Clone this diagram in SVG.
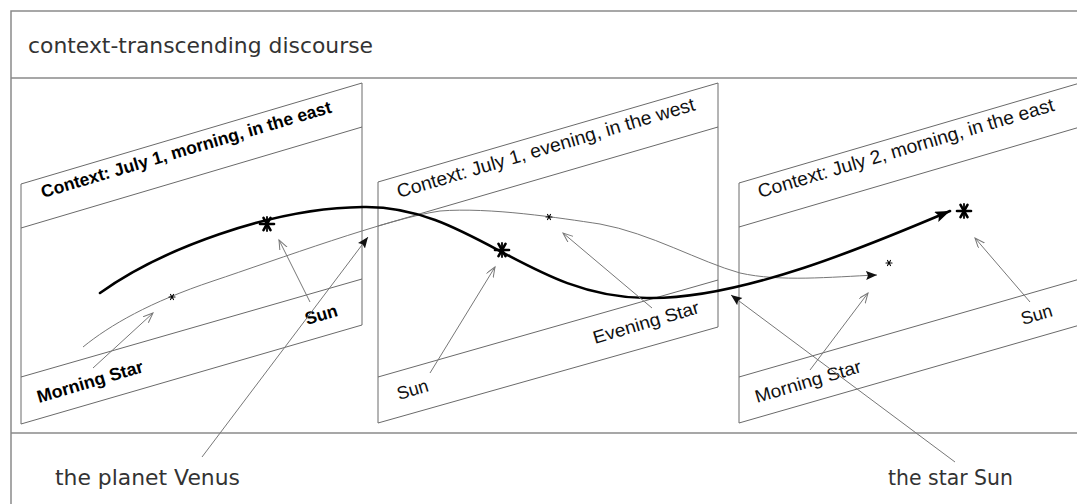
<svg xmlns="http://www.w3.org/2000/svg" width="1077" height="504" viewBox="0 0 1077 504">
<style>
.frame{fill:none;stroke:#8a8a8a;stroke-width:1.5}
.panel{fill:#fff;stroke:#6a6a6a;stroke-width:1}
.pline{fill:none;stroke:#6a6a6a;stroke-width:1}
.big{font-family:"DejaVu Sans","Liberation Sans",sans-serif;fill:#333}
.ctxb{font-family:"Liberation Sans",Arial,sans-serif;font-weight:bold;font-size:17.5px;fill:#000}
.ctx{font-family:"Liberation Sans",Arial,sans-serif;font-size:19px;fill:#111}
.lblb{font-family:"Liberation Sans",Arial,sans-serif;font-weight:bold;font-size:17.5px;fill:#000}
.lbl{font-family:"Liberation Sans",Arial,sans-serif;font-size:18px;fill:#111}
.thick{fill:none;stroke:#000;stroke-width:2.6;stroke-linecap:round}
.thin{fill:none;stroke:#777;stroke-width:1}
.ptr{fill:none;stroke:#777;stroke-width:1}
.star{stroke:#000;stroke-linecap:round}
</style>
<defs>
<marker id="ahThick" markerUnits="userSpaceOnUse" markerWidth="16" markerHeight="12" refX="15" refY="5.5" orient="auto">
<path d="M0,0 L15,5.5 L0,11 L3,5.5 z" fill="#000"/>
</marker>
<marker id="ahFill" markerUnits="userSpaceOnUse" markerWidth="12" markerHeight="10" refX="11" refY="4.5" orient="auto">
<path d="M0,0 L11,4.5 L0,9 L2,4.5 z" fill="#111"/>
</marker>
<marker id="ahOpen" markerUnits="userSpaceOnUse" markerWidth="12" markerHeight="10" refX="10" refY="4" orient="auto">
<path d="M0,0 L10,4 L0,8" fill="none" stroke="#777" stroke-width="1"/>
</marker>
<g id="bigstar">
<line class="star" x1="-7" y1="0" x2="7" y2="0" stroke-width="2.6"/>
<line class="star" x1="-3.5" y1="-6.1" x2="3.5" y2="6.1" stroke-width="2.6"/>
<line class="star" x1="3.5" y1="-6.1" x2="-3.5" y2="6.1" stroke-width="2.6"/>
<line class="star" x1="0" y1="-7" x2="0" y2="7" stroke-width="1.8"/>
</g>
<g id="smallstar">
<line class="star" x1="-3" y1="0" x2="3" y2="0" stroke-width="1.1"/>
<line class="star" x1="-1.5" y1="-2.6" x2="1.5" y2="2.6" stroke-width="1.1"/>
<line class="star" x1="1.5" y1="-2.6" x2="-1.5" y2="2.6" stroke-width="1.1"/>
</g>
</defs>
<rect width="1077" height="504" fill="#fff"/>

<g id="frame">
<path class="frame" d="M1077,11 H11 V504 M11,78 H1077 M11,433 H1077"/>
<text class="big" x="28" y="53" font-size="22" textLength="345" lengthAdjust="spacingAndGlyphs">context-transcending discourse</text>
</g>

<g id="panel1">
<path class="panel" d="M21,184 L362,83 L362,325 L21,424 Z"/>
<path class="pline" d="M21,228 L362,127 M21,377 L362,279"/>
<text class="ctxb" x="43" y="198" transform="rotate(-16.5 43 198)" textLength="302" lengthAdjust="spacingAndGlyphs">Context: July 1, morning, in the east</text>
<text class="lblb" x="39" y="403" transform="rotate(-16.5 39 403)" textLength="110" lengthAdjust="spacingAndGlyphs">Morning Star</text>
<text class="lblb" x="307" y="325" transform="rotate(-16.5 307 325)">Sun</text>
</g>

<g id="panel2">
<path class="panel" d="M378,182 L718,83 L718,327 L378,423 Z"/>
<path class="pline" d="M378,226 L718,127 M378,377 L718,280"/>
<text class="ctx" x="399" y="198" transform="rotate(-16.5 399 198)" textLength="310" lengthAdjust="spacingAndGlyphs">Context: July 1, evening, in the west</text>
<text class="lbl" x="399" y="400" transform="rotate(-16.5 399 400)">Sun</text>
<text class="lbl" x="595" y="344" transform="rotate(-16.5 595 344)" textLength="110" lengthAdjust="spacingAndGlyphs">Evening Star</text>
</g>

<g id="panel3">
<path class="panel" d="M739,183 L1080,83 L1080,325 L739,423 Z"/>
<path class="pline" d="M739,227 L1080,127 M739,377 L1080,279"/>
<text class="ctx" x="760" y="198" transform="rotate(-16.5 760 198)" textLength="308" lengthAdjust="spacingAndGlyphs">Context: July 2, morning, in the east</text>
<text class="lbl" x="1023" y="325" transform="rotate(-16.5 1023 325)">Sun</text>
<text class="lbl" x="757" y="403" transform="rotate(-16.5 757 403)" textLength="110" lengthAdjust="spacingAndGlyphs">Morning Star</text>
</g>

<g id="bottom-labels">
<text class="big" x="55" y="485" font-size="21.5" textLength="185" lengthAdjust="spacingAndGlyphs">the planet Venus</text>
<text class="big" x="888" y="485" font-size="21.5" textLength="125" lengthAdjust="spacingAndGlyphs">the star Sun</text>
</g>

<g id="connectors">
<path class="thin" d="M83,347 C110,325 150,302 213,281 S390,218 440,211 C490,207 560,218 600,224 C650,233 700,262 740,273 C780,282 830,277 877,275" marker-end="url(#ahFill)"/>
<path class="thick" d="M100,293 C160,250 270,208 363,207 C470,205 530,298 647,298 C740,300 870,245 950,211" marker-end="url(#ahThick)"/>
<line class="ptr" x1="310" y1="302" x2="279" y2="240" marker-end="url(#ahOpen)"/>
<line class="ptr" x1="93" y1="368" x2="153" y2="313" marker-end="url(#ahOpen)"/>
<line class="ptr" x1="202" y1="457" x2="368" y2="237" marker-end="url(#ahFill)"/>
<line class="ptr" x1="430" y1="373" x2="495" y2="267" marker-end="url(#ahOpen)"/>
<line class="ptr" x1="652" y1="308" x2="563" y2="233" marker-end="url(#ahOpen)"/>
<line class="ptr" x1="810" y1="370" x2="868" y2="293" marker-end="url(#ahOpen)"/>
<line class="ptr" x1="1030" y1="302" x2="975" y2="238" marker-end="url(#ahOpen)"/>
<line class="ptr" x1="955" y1="462" x2="731" y2="295" marker-end="url(#ahFill)"/>
</g>

<g id="stars">
<use href="#bigstar" x="267" y="224"/>
<use href="#bigstar" x="502" y="250"/>
<use href="#bigstar" x="964" y="211"/>
<use href="#smallstar" x="172" y="297"/>
<use href="#smallstar" x="549" y="217"/>
<use href="#smallstar" x="889" y="263"/>
</g>
</svg>
